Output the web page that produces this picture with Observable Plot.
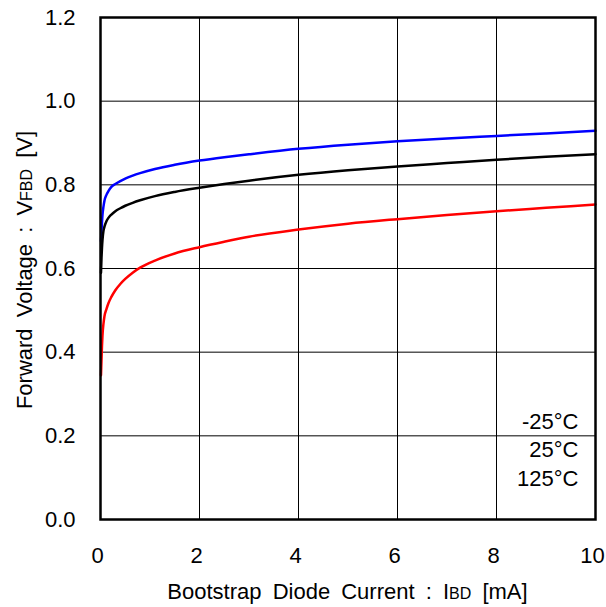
<!DOCTYPE html>
<html>
<head>
<meta charset="utf-8">
<script src="https://cdn.jsdelivr.net/npm/d3@7"></script>
<script src="https://cdn.jsdelivr.net/npm/@observablehq/plot@0.6"></script>
<style>
  body { margin: 0; background: #fff; }
  #chart svg { display: block; }
</style>
</head>
<body>
<div id="chart"></div>
<script>
// Bootstrap diode forward voltage vs. current, at three temperatures
const currentMA = [0.01, 0.02, 0.03, 0.04, 0.06, 0.08, 0.12, 0.16, 0.22, 0.3, 0.4, 0.5, 0.65, 0.8,
                   1.1, 1.5, 2, 2.5, 3, 4, 5, 6, 7, 8, 9, 10];
const vfMinus25 = [0.665, 0.69, 0.71, 0.728, 0.748, 0.762, 0.776, 0.785, 0.795, 0.802, 0.809, 0.815, 0.822, 0.828,
                   0.838, 0.848, 0.858, 0.866, 0.873, 0.886, 0.896, 0.904, 0.911, 0.917, 0.923, 0.929];
const vf25      = [0.59, 0.625, 0.65, 0.668, 0.69, 0.70, 0.713, 0.721, 0.729, 0.737, 0.744, 0.750, 0.757, 0.763,
                   0.773, 0.783, 0.793, 0.802, 0.810, 0.824, 0.835, 0.844, 0.852, 0.860, 0.867, 0.873];
const vf125     = [0.345, 0.38, 0.415, 0.44, 0.468, 0.486, 0.503, 0.517, 0.532, 0.548, 0.563, 0.575, 0.590, 0.602,
                   0.619, 0.636, 0.651, 0.664, 0.676, 0.693, 0.707, 0.718, 0.728, 0.737, 0.745, 0.753];

const tempLabels = ["-25°C", "25°C", "125°C"];
const seriesColors = ["#0000ff", "#000000", "#ff0000"];
const xTicks = [0, 2, 4, 6, 8, 10];
const yTicks = [0, 0.2, 0.4, 0.6, 0.8, 1.0, 1.2];

// long-format rows for the line mark
const rows = [];
[vfMinus25, vf25, vf125].forEach((vals, k) => {
  currentMA.forEach((x, i) => rows.push({ current: x, vf: vals[i], temp: tempLabels[k] }));
});

const font = "'Liberation Sans', Arial, Helvetica, sans-serif";
const M = { left: 100, right: 11, top: 17, bottom: 88 };
const W = 606, H = 607;

const chart = Plot.plot({
  width: W,
  height: H,
  marginLeft: M.left,
  marginRight: M.right,
  marginTop: M.top,
  marginBottom: M.bottom,
  style: { fontFamily: font, fontSize: "22px", background: "#fff", color: "#000" },
  x: { domain: [0, 10] },
  y: { domain: [0, 1.2] },
  color: { domain: tempLabels, range: seriesColors },
  marks: [
    Plot.gridX(xTicks, { stroke: "#000", strokeOpacity: 1, strokeWidth: 1 }),
    Plot.gridY(yTicks, { stroke: "#000", strokeOpacity: 1, strokeWidth: 1 }),
    Plot.line(rows, { x: "current", y: "vf", z: "temp", stroke: "temp", strokeWidth: 2.5, curve: "monotone-x" }),
    Plot.frame({ stroke: "#000", strokeWidth: 2.5 }),
    Plot.axisX(xTicks, { tickSize: 0, tickPadding: 28, label: null, dx: -3, fontSize: 22 }),
    Plot.axisY(yTicks, { tickSize: 0, tickPadding: 25, label: null, fontSize: 22, tickFormat: d => d.toFixed(1) }),
    Plot.text([tempLabels.join("\n")], {
      frameAnchor: "bottom-right", textAnchor: "end", lineAnchor: "bottom",
      lineHeight: 1.28, dx: -17, dy: -34, fontSize: 22, fill: "#000"
    })
  ]
});

// axis titles with small subscript lettering
const svg = d3.select(chart);
const plotMidX = M.left + (W - M.left - M.right) / 2;
const plotMidY = M.top + (H - M.top - M.bottom) / 2;

const xTitle = svg.append("text")
  .attr("x", plotMidX).attr("y", 599)
  .attr("text-anchor", "middle")
  .style("font-family", font).style("font-size", "22px").style("word-spacing", "5px")
  .attr("fill", "#000");
xTitle.append("tspan").text("Bootstrap Diode Current : I");
xTitle.append("tspan").style("font-size", "16px").text("BD");
xTitle.append("tspan").text(" [mA]");

const yTitle = svg.append("text")
  .attr("transform", `translate(32, ${plotMidY + 2}) rotate(-90)`)
  .attr("text-anchor", "middle")
  .style("font-family", font).style("font-size", "22px").style("word-spacing", "5px")
  .attr("fill", "#000");
yTitle.append("tspan").text("Forward Voltage : V");
yTitle.append("tspan").style("font-size", "16px").text("FBD");
yTitle.append("tspan").text(" [V]");

document.getElementById("chart").append(chart);
</script>
</body>
</html>
